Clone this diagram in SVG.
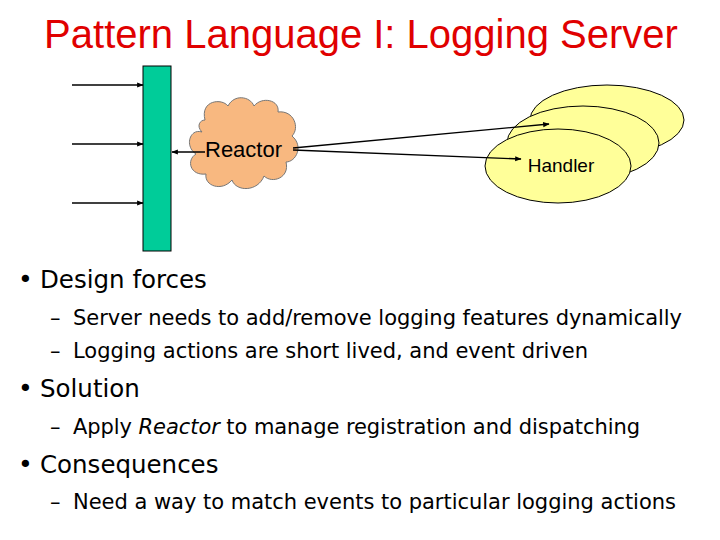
<svg xmlns="http://www.w3.org/2000/svg" width="720" height="540" viewBox="0 0 720 540">
<defs>
<marker id="ah" viewBox="0 0 10 10" refX="9" refY="5" markerWidth="5" markerHeight="5" orient="auto"><path d="M0,1 L10,5 L0,9 z" fill="#000"/></marker>
<style>
.t{font-family:"Liberation Sans",Arial,sans-serif}
.b{font-family:"DejaVu Sans",Verdana,sans-serif;fill:#000}
.l{stroke:#000;stroke-width:1.3;fill:none;marker-end:url(#ah)}
</style>
</defs>
<rect width="720" height="540" fill="#fff"/>
<text class="t" x="361" y="48" font-size="40" text-anchor="middle" fill="#e00000">Pattern Language I: Logging Server</text>
<g id="bar"><rect x="143" y="66" width="28" height="185" fill="#00cc99" stroke="#000" stroke-width="1"/></g>
<g id="reactor">
<path d="M205,120 C200,100 222,98 228,106 C234,94 250,96 254,106 C262,96 280,100 278,112 C294,110 300,128 292,136 C304,146 296,162 286,162 C290,178 272,184 264,176 C258,192 236,192 232,180 C222,192 204,186 206,174 C190,176 186,160 196,154 C184,146 190,128 202,132 C196,126 200,120 205,120 Z" fill="#f8b880" stroke="#777" stroke-width="1"/>
<text class="t" x="205" y="157" font-size="22" fill="#000">Reactor</text>
</g>
<g id="handlers">
<ellipse cx="607" cy="120" rx="77" ry="35" fill="#ffff99" stroke="#000"/>
<ellipse cx="583" cy="143" rx="76" ry="37" fill="#ffff99" stroke="#000"/>
<ellipse cx="558" cy="166" rx="73" ry="37" fill="#ffff99" stroke="#000"/>
<text class="t" x="561" y="172" font-size="19" text-anchor="middle" fill="#000">Handler</text>
</g>
<g id="connectors">
<line class="l" x1="72" y1="85" x2="143" y2="85"/>
<line class="l" x1="72" y1="144" x2="143" y2="144"/>
<line class="l" x1="72" y1="203" x2="143" y2="203"/>
<line class="l" x1="205" y1="152" x2="172" y2="152"/>
<line class="l" x1="293" y1="148" x2="549" y2="124"/>
<line class="l" x1="293" y1="150" x2="521" y2="159"/>
</g>
<g id="text">
<text class="b" x="18" y="288" font-size="25">•</text>
<text class="b" x="40" y="288" font-size="24.5">Design forces</text>
<text class="b" x="50" y="325" font-size="21">–</text>
<text class="b" x="73" y="325" font-size="21" textLength="609">Server needs to add/remove logging features dynamically</text>
<text class="b" x="50" y="358" font-size="21">–</text>
<text class="b" x="73" y="358" font-size="21" textLength="515">Logging actions are short lived, and event driven</text>
<text class="b" x="18" y="397" font-size="25">•</text>
<text class="b" x="40" y="397" font-size="24.5">Solution</text>
<text class="b" x="50" y="434" font-size="21">–</text>
<text class="b" x="73" y="434" font-size="21" textLength="567">Apply <tspan font-style="italic">Reactor</tspan> to manage registration and dispatching</text>
<text class="b" x="18" y="473" font-size="25">•</text>
<text class="b" x="40" y="473" font-size="24.5">Consequences</text>
<text class="b" x="50" y="509" font-size="21">–</text>
<text class="b" x="73" y="509" font-size="21" textLength="603">Need a way to match events to particular logging actions</text>
</g>
</svg>
